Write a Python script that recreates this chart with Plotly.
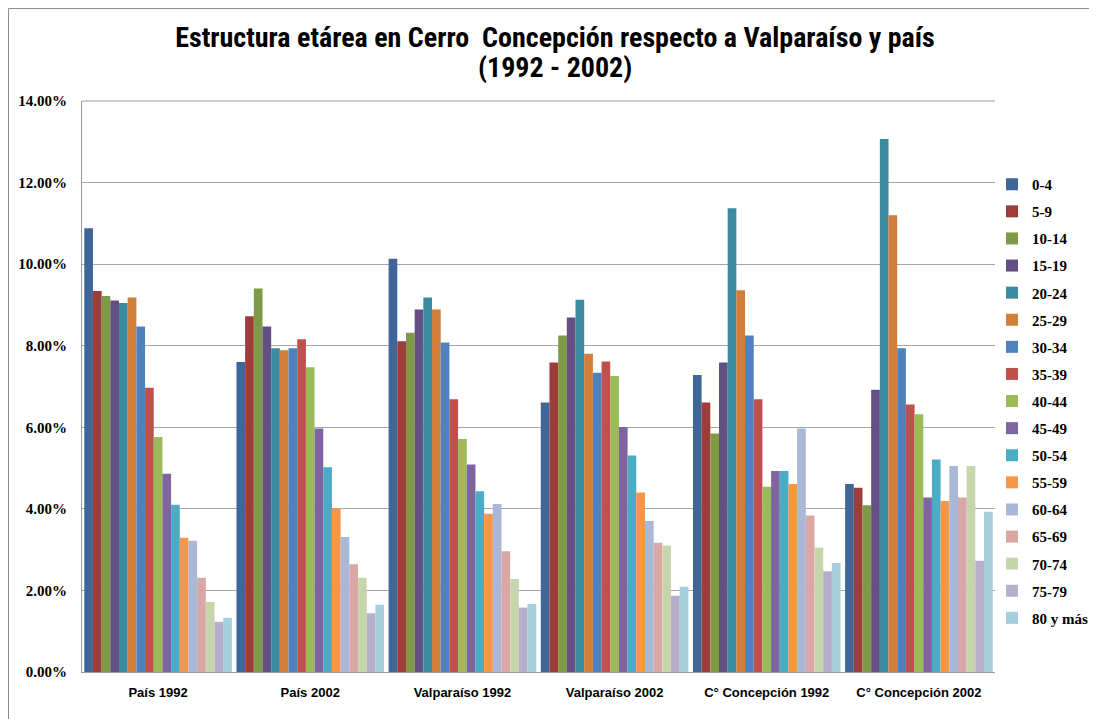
import plotly.graph_objects as go

categories = ["País 1992", "País 2002", "Valparaíso 1992", "Valparaíso 2002",
              "C° Concepción 1992", "C° Concepción 2002"]
age_groups = ["0-4", "5-9", "10-14", "15-19", "20-24", "25-29", "30-34", "35-39",
              "40-44", "45-49", "50-54", "55-59", "60-64", "65-69", "70-74", "75-79",
              "80 y más"]

# values (%) per category, ordered by age group
pais_1992 = [10.88, 9.34, 9.22, 9.11, 9.05, 9.18, 8.47, 6.97, 5.76, 4.86, 4.10, 3.29,
             3.22, 2.31, 1.72, 1.23, 1.33]
pais_2002 = [7.60, 8.72, 9.40, 8.47, 7.94, 7.89, 7.94, 8.16, 7.47, 5.97, 5.02, 4.00,
             3.31, 2.64, 2.31, 1.44, 1.65]
valpo_1992 = [10.13, 8.11, 8.32, 8.89, 9.18, 8.89, 8.08, 6.69, 5.71, 5.09, 4.43, 3.88,
              4.12, 2.96, 2.28, 1.58, 1.67]
valpo_2002 = [6.61, 7.59, 8.25, 8.69, 9.13, 7.80, 7.34, 7.61, 7.26, 6.01, 5.31, 4.40,
              3.70, 3.17, 3.10, 1.87, 2.09]
concep_1992 = [7.28, 6.61, 5.85, 7.59, 11.37, 9.36, 8.25, 6.69, 4.54, 4.93, 4.93, 4.61,
               5.97, 3.84, 3.05, 2.47, 2.67]
concep_2002 = [4.61, 4.52, 4.09, 6.92, 13.07, 11.20, 7.94, 6.56, 6.32, 4.28, 5.21, 4.19,
               5.05, 4.28, 5.05, 2.73, 3.93]

series_by_category = [pais_1992, pais_2002, valpo_1992, valpo_2002, concep_1992, concep_2002]

title_line1 = "Estructura etárea en Cerro  Concepción respecto a Valparaíso y país"
title_line2 = "(1992 - 2002)"

colors = ["#3F6696", "#9D3D3A", "#7E9A47", "#634F82", "#3A8BA1", "#D07E3A",
          "#4F81BD", "#C0504D", "#9BBB59", "#8064A2", "#4BACC6", "#F79646",
          "#A9B8D7", "#D8A7A6", "#C6D6AC", "#B7AECB", "#A6CEDC"]

fig = go.Figure()
for i, ag in enumerate(age_groups):
    fig.add_trace(go.Bar(
        x=categories,
        y=[vals[i] for vals in series_by_category],
        name=ag,
        marker=dict(color=colors[i], line=dict(width=0)),
        legendgroup=ag,
    ))

# page has an 8px body margin, so the figure is drawn offset by (8, 8)
OFF = 8
W, H = 1097 - OFF, 719 - OFF
L, T = 82 - OFF, 101 - OFF
pw, ph = 913, 571
R, B = W - L - pw, H - T - ph


def px_x(px):
    return (px - OFF - L) / pw


def px_y(py):
    return (T + ph - (py - OFF)) / ph


title_font = dict(family="Liberation Sans Narrow, Roboto Condensed, Liberation Sans, sans-serif",
                  size=28, color="#000000", weight="bold")

fig.update_layout(
    width=W, height=H,
    margin=dict(l=L, r=R, t=T, b=B, autoexpand=False),
    paper_bgcolor="white", plot_bgcolor="white",
    barmode="group", bargap=0.03, bargroupgap=0,
    title=dict(
        text=title_line1,
        x=px_x(555), xanchor="center", xref="paper",
        y=1 - (37 - OFF) / H, yanchor="middle",
        font=title_font,
    ),
    annotations=[
        dict(text=title_line2, xref="paper", yref="paper",
             x=px_x(555), y=px_y(67), xanchor="center", yanchor="middle",
             showarrow=False, font=title_font),
    ],
    legend=dict(
        x=px_x(992), xanchor="left", y=px_y(168), yanchor="top",
        traceorder="grouped", tracegroupgap=4.6,
        font=dict(family="Liberation Serif, serif", size=15, color="#000000", weight="bold"),
        itemwidth=30, bgcolor="rgba(0,0,0,0)",
    ),
    xaxis=dict(
        showline=True, linecolor="#9A9A9A", linewidth=1, ticks="",
        tickfont=dict(family="Liberation Sans, Arial, sans-serif", size=13,
                      color="#000000", weight="bold"),
        ticklabelstandoff=8,
    ),
    yaxis=dict(
        range=[0, 14], dtick=2, tickformat=".2f", ticksuffix="%",
        showline=True, linecolor="#9A9A9A", linewidth=1, mirror=False,
        showgrid=True, gridcolor="#A6A6A6", gridwidth=1,
        zeroline=False, ticks="",
        tickfont=dict(family="Liberation Serif, serif", size=15, color="#000000", weight="bold"),
        ticklabelstandoff=11,
    ),
    shapes=[
        dict(type="rect", xref="paper", yref="paper",
             x0=(0.5 - L) / pw, x1=(W + 20 - L) / pw,
             y0=-(B + 20) / ph, y1=(T + ph - 0.5) / ph,
             line=dict(color="#8C8C8C", width=1), fillcolor="rgba(0,0,0,0)", layer="below"),
        dict(type="line", xref="paper", yref="paper",
             x0=0, x1=1, y0=1, y1=1, line=dict(color="#9A9A9A", width=1)),
    ],
)

fig.write_html("out.html")
